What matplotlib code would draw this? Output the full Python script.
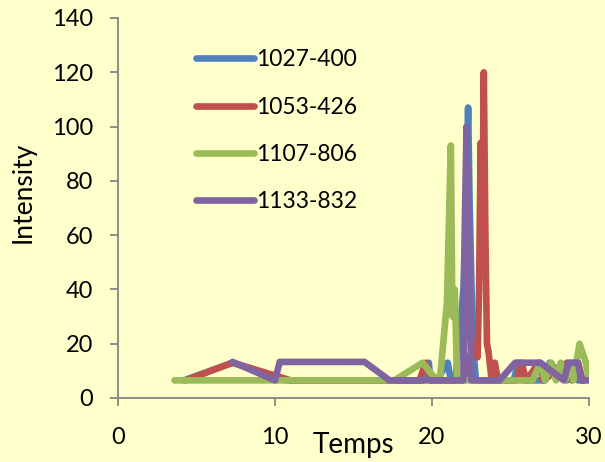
import numpy as np
import matplotlib.pyplot as plt

plt.rcParams["font.family"] = ["Lato", "DejaVu Sans"]

# series (time, intensity)
labels = ["1027-400", "1053-426", "1107-806", "1133-832"]
colors = ["#4F81BD", "#C0504D", "#9BBB59", "#8064A2"]

t_1027 = [4.2, 7.3, 10.8, 19.4, 19.8, 19.9, 20.3, 21.0, 21.2, 21.5, 22.0, 22.2, 22.3, 22.4,
          22.6, 22.8, 23.0, 24.3, 25.2, 25.5, 25.8, 27.2, 27.5, 28.6, 29.0, 29.3, 29.7]
y_1027 = [6.5, 13, 6.5, 6.5, 13, 6.5, 6.5, 13, 6.5, 6.5, 40, 80, 107, 70,
          20, 6.5, 6.5, 6.5, 6.5, 13, 6.5, 6.5, 13, 6.5, 13, 6.5, 6.5]

t_1053 = [4.3, 7.3, 11.0, 19.2, 19.6, 20.0, 22.0, 22.4, 22.7, 22.9, 23.0, 23.1, 23.2, 23.3,
          23.4, 23.5, 23.6, 23.8, 24.0, 24.2, 25.4, 25.7, 26.0, 26.8, 27.1, 28.6, 28.9, 29.3, 29.6]
y_1053 = [6.5, 13, 6.5, 6.5, 13, 6.5, 6.5, 15, 20, 15, 40, 94, 53, 120,
          60, 20, 17, 6.5, 13, 6.5, 6.5, 13, 6.5, 13, 6.5, 13, 6.5, 13, 6.5]

t_1107 = [3.6, 17.6, 19.4, 20.3, 20.5, 20.95, 21.2, 21.3, 21.45, 21.6, 21.8, 25.5, 26.4,
          26.9, 27.2, 27.6, 27.9, 28.2, 28.5, 28.8, 29.0, 29.4, 29.8, 30.0]
y_1107 = [6.5, 6.5, 13, 6.5, 6.5, 35, 93, 30, 40, 6.5, 6.5, 6.5, 6.5,
          13, 6.5, 13, 6.5, 13, 6.5, 13, 6.5, 20, 13, 6.5]

t_1133 = [7.3, 10.0, 10.3, 15.7, 17.3, 22.0, 22.1, 22.2, 22.25, 22.3, 22.4, 22.5, 22.7,
          24.3, 25.3, 26.9, 28.4, 28.7, 29.3, 29.5, 30.0]
y_1133 = [13.3, 6.5, 13.3, 13.3, 6.5, 6.5, 67, 100, 60, 85, 40, 6.5, 6.5,
          6.5, 13, 13, 6.5, 13, 13, 6.5, 6.5]

series = [(t_1027, y_1027), (t_1053, y_1053), (t_1107, y_1107), (t_1133, y_1133)]

bg = "#FFFFCC"
fig = plt.figure(figsize=(6.05, 4.62), dpi=100, facecolor=bg)
ax = fig.add_axes([118/605, 1-398/462, 471/605, 380/462], facecolor=bg)

for (t, y), lab, c in zip(series, labels, colors):
    ax.plot(t, y, color=c, lw=4.8, label=lab, solid_capstyle="round", solid_joinstyle="round")

ax.set_xlim(0, 30)
ax.set_ylim(0, 140)
ax.set_xticks([0, 10, 20, 30])
ax.set_yticks(np.arange(0, 141, 20))
for s in ["top", "right"]:
    ax.spines[s].set_visible(False)
for s in ["left", "bottom"]:
    ax.spines[s].set_color("#868686")
    ax.spines[s].set_linewidth(1.3)
ax.tick_params(direction="out", length=6, width=1.3, color="#868686", labelsize=17)
ax.tick_params(axis="y", pad=12)
ax.tick_params(axis="x", pad=15)

ax.set_xlabel("Temps", fontsize=20)
ax.xaxis.set_label_coords(0.5, -0.09)
ax.set_ylabel("Intensity", fontsize=19)
ax.yaxis.set_label_coords(-0.175, 0.54)

leg = ax.legend(loc="upper left", bbox_to_anchor=(185/605, 1-38/462), bbox_transform=fig.transFigure,
                frameon=False, fontsize=16.5, handlelength=2.5, handletextpad=0.1, labelspacing=1.14,
                borderpad=0)

fig.savefig("out.png", dpi=100, facecolor=bg)
